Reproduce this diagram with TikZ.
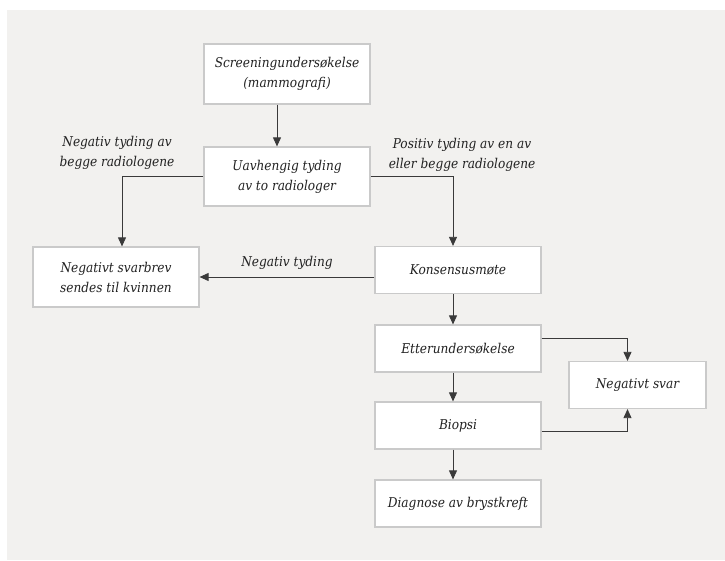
\documentclass[tikz,border=0pt]{standalone}
\usepackage{fontspec}
\setmainfont{DejaVu Serif Condensed}
\usetikzlibrary{arrows.meta, positioning}
\definecolor{bggray}{HTML}{F2F1EF}
\definecolor{boxline}{HTML}{CACACA}
\definecolor{linegray}{HTML}{3A3A3A}
\definecolor{textgray}{HTML}{222222}

\begin{document}
\begin{tikzpicture}[x=1pt, y=1pt, >={Triangle[length=9pt, width=8pt]},
    box/.style={draw=boxline, line width=1.2pt, fill=white, minimum width=166pt, minimum height=47pt,
        align=center, inner sep=2pt, text=textgray, font=\fontsize{13.5}{20}\selectfont\itshape},
    lbl/.style={align=center, inner sep=1pt, text=textgray, font=\fontsize{13.5}{20}\selectfont\itshape},
    flow/.style={->, draw=linegray, line width=0.8pt}]
    \useasboundingbox (0,0) rectangle (725,560);
    \fill[bggray] (7,0) rectangle (725,550);
    \coordinate (midcol) at (453,0);

    % boxes
    \node[box, minimum height=60pt] (screen) at (287,486) {Screeningundersøkelse\\(mammografi)};
    \node[box, minimum height=59pt] (uavh) at (287,383.5) {Uavhengig tyding\\av to radiologer};
    \node[box, minimum height=60pt] (svarbrev) at (116,283) {Negativt svarbrev\\sendes til kvinnen};
    \node[box] (konsensus) at (458,290) {Konsensusmøte};
    \node[box] (etter) at (458,211.5) {Etterundersøkelse};
    \node[box] (biopsi) at (458,134.5) {Biopsi};
    \node[box] (diagnose) at (458,56.5) {Diagnose av brystkreft};
    \node[box, minimum width=137pt] (negsvar) at (637.5,175) {Negativt svar};

    % labels
    \node[lbl] (negtyding) at (117,407) {Negativ tyding av\\begge radiologene};
    \node[lbl] (postyding) at (462,405) {Positiv tyding av en av\\eller begge radiologene};

    % arrows
    \draw[flow] ([xshift=-10pt]screen.south) -- ([xshift=-10pt]uavh.north);
    \draw[flow] (uavh.west) -| ([xshift=6pt]svarbrev.north);
    \draw[flow] (uavh.east) -| (konsensus.north -| midcol);
    \draw[flow] (konsensus.west |- svarbrev.east) -- (svarbrev.east)
        node[lbl, midway, above=6pt] {Negativ tyding};
    \draw[flow] (konsensus.south -| midcol) -- (etter.north -| midcol);
    \draw[flow] (etter.south -| midcol) -- (biopsi.north -| midcol);
    \draw[flow] (biopsi.south -| midcol) -- (diagnose.north -| midcol);
    \draw[flow] ([yshift=10pt]etter.east) -| ([xshift=-10pt]negsvar.north);
    \draw[flow] ([yshift=-6pt]biopsi.east) -| ([xshift=-10pt]negsvar.south);
\end{tikzpicture}
\end{document}
